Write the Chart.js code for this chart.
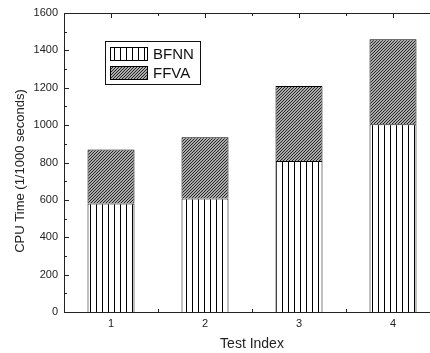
<!DOCTYPE html>
<html>
<head>
<meta charset="utf-8">
<script src="https://cdn.jsdelivr.net/npm/chart.js@4.4.1/dist/chart.umd.min.js"></script>
<style>
  html, body { margin: 0; padding: 0; background: #fff; overflow: hidden; }
  canvas { display: block; }
</style>
</head>
<body>
<canvas id="cpuChart" width="460" height="353"></canvas>
<script>
// --- Data ---
const testIndex = ['1', '2', '3', '4'];
const bfnnTime = [580, 608, 808, 1005];
const ffvaTime = [290, 327, 402, 455];
const yTicks = [0, 200, 400, 600, 800, 1000, 1200, 1400, 1600];
const yTitle = 'CPU Time (1/1000 seconds)';

// --- Fill patterns ---
function verticalLines() {
    const c = document.createElement('canvas');
    c.width = 6; c.height = 1;
    const g = c.getContext('2d');
    g.fillStyle = '#fff';
    g.fillRect(0, 0, 6, 1);
    g.fillStyle = '#000';
    g.fillRect(0, 0, 1, 1);
    return g.createPattern(c, 'repeat');
}

function diagonalHatch() {
    const n = 3;
    const c = document.createElement('canvas');
    c.width = n; c.height = n;
    const g = c.getContext('2d');
    g.fillStyle = '#ababab';
    g.fillRect(0, 0, n, n);
    g.fillStyle = '#262626';
    for (let i = 0; i < n; i++) g.fillRect(i, n - 1 - i, 1, 1);
    return g.createPattern(c, 'repeat');
}

const ctx = document.getElementById('cpuChart').getContext('2d');
const bfnnFill = verticalLines();
const ffvaFill = diagonalHatch();
const font = 'Arial, "Liberation Sans", sans-serif';

// axis frame + inward ticks, mirrored on top
const frame = {
    id: 'frame',
    beforeDatasetsDraw(chart) {
        const { ctx, chartArea: a, scales: { x, y } } = chart;
        ctx.save();
        ctx.strokeStyle = '#222';
        ctx.lineWidth = 1;
        ctx.beginPath();
        for (let v = 0; v <= 1600; v += 100) {
            const py = Math.round(y.getPixelForValue(v)) + 0.5;
            const len = v % 200 === 0 ? 5 : 3;
            ctx.moveTo(a.left, py); ctx.lineTo(a.left + len, py);
        }
        for (let i = 0; i < testIndex.length; i++) {
            const px = Math.round(x.getPixelForValue(i)) + 0.5;
            ctx.moveTo(px, a.bottom); ctx.lineTo(px, a.bottom - 5);
            ctx.moveTo(px, a.top); ctx.lineTo(px, a.top + 5);
            if (i < testIndex.length - 1) {
                const mx = Math.round((x.getPixelForValue(i) + x.getPixelForValue(i + 1)) / 2) + 0.5;
                ctx.moveTo(mx, a.bottom); ctx.lineTo(mx, a.bottom - 3);
                ctx.moveTo(mx, a.top); ctx.lineTo(mx, a.top + 3);
            }
        }
        ctx.stroke();
        ctx.restore();
    },
    afterDatasetsDraw(chart) {
        const { ctx, chartArea: a } = chart;
        ctx.save();
        ctx.strokeStyle = '#222';
        ctx.lineWidth = 1;
        ctx.strokeRect(Math.round(a.left) + 0.5, Math.round(a.top) + 0.5,
            Math.round(a.right - a.left), Math.round(a.bottom - a.top));
        // rotated y title, sitting a bit below the plot middle
        ctx.translate(20, 171);
        ctx.rotate(-Math.PI / 2);
        ctx.font = '13px ' + font;
        ctx.fillStyle = '#222';
        ctx.textAlign = 'center';
        ctx.textBaseline = 'middle';
        ctx.fillText(yTitle, 0, 0);
        ctx.restore();
    }
};

// boxed legend inside the plot
const boxLegend = {
    id: 'boxLegend',
    afterDraw(chart) {
        const { ctx } = chart;
        ctx.save();
        ctx.lineWidth = 1;
        ctx.strokeStyle = '#111';
        ctx.strokeRect(105.5, 41.5, 95, 43);
        ctx.font = '15px ' + font;
        ctx.textBaseline = 'middle';
        chart.data.datasets.forEach((ds, i) => {
            const top = 47 + i * 19;
            ctx.fillStyle = ds.backgroundColor;
            ctx.fillRect(110, top, 38, 14);
            ctx.strokeStyle = '#000';
            ctx.strokeRect(110.5, top + 0.5, 37, 13);
            ctx.fillStyle = '#111';
            ctx.fillText(ds.label, 153, top + 8);
        });
        ctx.restore();
    }
};

new Chart(ctx, {
    type: 'bar',
    data: {
        labels: testIndex,
        datasets: [
            {
                label: 'BFNN',
                data: bfnnTime,
                backgroundColor: bfnnFill,
                borderColor: '#000',
                borderWidth: 1
            },
            {
                label: 'FFVA',
                data: ffvaTime,
                backgroundColor: ffvaFill,
                borderColor: '#000',
                borderWidth: 1
            }
        ]
    },
    options: {
        responsive: false,
        animation: false,
        barPercentage: 0.5,
        categoryPercentage: 1.0,
        layout: { padding: { top: 13, right: 20, left: 0, bottom: 0 } },
        plugins: {
            legend: { display: false },
            tooltip: { enabled: false }
        },
        scales: {
            x: {
                stacked: true,
                grid: { display: false, drawTicks: false },
                border: { display: false },
                ticks: {
                    padding: 5,
                    color: '#222',
                    font: { family: font, size: 11 }
                },
                title: {
                    display: true,
                    text: 'Test Index',
                    color: '#222',
                    padding: { top: 0, bottom: 0 },
                    font: { family: font, size: 14 }
                },
                afterFit(scale) { scale.height = 41; }
            },
            y: {
                stacked: true,
                min: 0,
                max: 1600,
                grid: { display: false, drawTicks: false },
                border: { display: false },
                afterBuildTicks(scale) {
                    scale.ticks = yTicks.map(v => ({ value: v }));
                },
                ticks: {
                    padding: 6,
                    color: '#222',
                    font: { family: font, size: 11 },
                    callback: v => String(v)
                },
                afterFit(scale) { scale.width = 64; }
            }
        }
    },
    plugins: [frame, boxLegend]
});
</script>
</body>
</html>
